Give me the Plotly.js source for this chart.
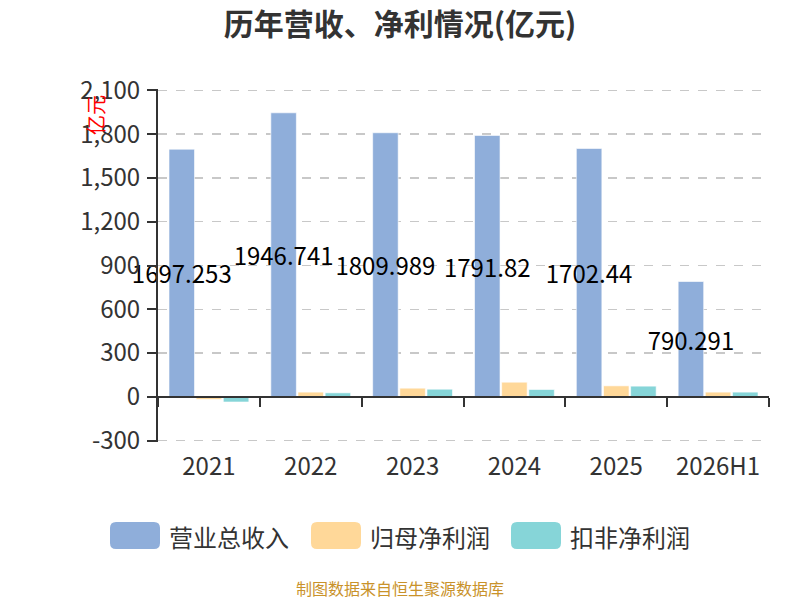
<!DOCTYPE html>
<html lang="zh">

<head>
    <meta charset="utf-8">
    <title>历年营收、净利情况</title>
    <script src="https://cdn.plot.ly/plotly-3.0.1.min.js"></script>
    <style>
        body,
        html {
            margin: 0;
            padding: 0;
            background: #fff;
        }

        #plot {
            width: 800px;
            height: 600px;
        }
    </style>
</head>

<body>
    <div id="plot"></div>

    <script>
        // values in 亿元
        const years = ['2021', '2022', '2023', '2024', '2025', '2026H1'];
        const revenue = [1697.253, 1946.741, 1809.989, 1791.82, 1702.44, 790.291];
        const netProfit = [-18, 32, 59, 100, 75, 32];
        const deductedProfit = [-36, 27, 52, 50, 73, 32];
        const seriesNames = ['营业总收入', '归母净利润', '扣非净利润'];
        const seriesColors = ['#8FAEDA', '#FFD899', '#86D5D8'];
        const yTicks = [-300, 0, 300, 600, 900, 1200, 1500, 1800, 2100];

        const font = '"Noto Sans CJK SC", "Noto Sans", sans-serif';
        // a little padding so plotly keeps the end gridlines
        const yMin = -310, yMax = 2110;

        // plot area in pixels, used to place the hand drawn legend and notes
        const M = { l: 158, r: 31, t: 89, b: 158 };
        const plotW = 800 - M.l - M.r, plotH = 600 - M.t - M.b;
        function px(x) { return (x - M.l) / plotW; }
        function py(y) { return (600 - M.b - y) / plotH; }

        function bars(values, i, withText) {
            const t = {
                type: 'bar',
                name: seriesNames[i],
                x: years,
                y: values,
                marker: { color: seriesColors[i], line: { color: 'rgba(255,255,255,0.6)', width: 1 } },
                showlegend: false,
                hoverinfo: 'x+y'
            };
            if (withText) {
                t.text = values.map(String);
                t.textposition = 'inside';
                t.insidetextanchor = 'middle';
                t.textangle = 0;
                t.constraintext = 'none';
                t.insidetextfont = { family: font, size: 24, color: '#000' };
                t.cliponaxis = false;
            }
            return t;
        }

        const data = [
            bars(revenue, 0, true),
            bars(netProfit, 1, false),
            bars(deductedProfit, 2, false)
        ];

        // legend drawn by hand to get the wide rounded swatches
        const shapes = [];
        const annotations = [];
        const legendX = [110, 311, 511];
        seriesNames.forEach(function (name, i) {
            const x0 = px(legendX[i]), x1 = px(legendX[i] + 50);
            const y0 = py(549), y1 = py(522);
            const r = 6 / plotW, ry = 6 / plotH;
            shapes.push({
                type: 'path', xref: 'paper', yref: 'paper',
                path: `M${x0 + r},${y0} L${x1 - r},${y0} Q${x1},${y0} ${x1},${y0 + ry} L${x1},${y1 - ry} Q${x1},${y1} ${x1 - r},${y1} L${x0 + r},${y1} Q${x0},${y1} ${x0},${y1 - ry} L${x0},${y0 + ry} Q${x0},${y0} ${x0 + r},${y0} Z`,
                fillcolor: seriesColors[i], line: { width: 0 }, layer: 'above'
            });
            annotations.push({
                xref: 'paper', yref: 'paper', x: px(legendX[i] + 57), y: py(536),
                xanchor: 'left', yanchor: 'middle', showarrow: false, text: name,
                font: { family: font, size: 24, color: '#333' }
            });
        });

        // 亿元 unit label
        annotations.push({
            xref: 'paper', yref: 'paper', x: px(96), y: py(115),
            xanchor: 'center', yanchor: 'middle', showarrow: false, text: '亿元', textangle: -90,
            font: { family: font, size: 20, color: '#ff0000' }
        });

        // source note
        annotations.push({
            xref: 'paper', yref: 'paper', x: px(400), y: py(588),
            xanchor: 'center', yanchor: 'middle', showarrow: false, text: '制图数据来自恒生聚源数据库',
            font: { family: font, size: 16, color: '#C9922A' }
        });

        const nCat = years.length;
        const boundaries = [];
        for (let i = 0; i <= nCat; i++) boundaries.push(i - 0.5);

        const layout = {
            width: 800,
            height: 600,
            margin: M,
            paper_bgcolor: '#fff',
            plot_bgcolor: '#fff',
            font: { family: font, color: '#333' },
            title: {
                text: '<b>历年营收、净利情况(亿元)</b>',
                x: 0.5, xanchor: 'center', y: 1 - 24 / 600, yanchor: 'middle',
                font: { family: font, size: 30, color: '#333' }
            },
            barmode: 'group',
            bargap: 0.2,
            bargroupgap: 0.06,
            xaxis: {
                type: 'category',
                range: [-0.5, nCat - 0.5],
                showline: false,
                ticks: '',
                showgrid: false,
                zeroline: false,
                ticklabelstandoff: 8,
                tickfont: { family: font, size: 24, color: '#333' }
            },
            // axis line and ticks drawn at y = 0
            xaxis2: {
                overlaying: 'x',
                anchor: 'free',
                position: (0 - yMin) / (yMax - yMin),
                range: [-0.5, nCat - 0.5],
                tickvals: boundaries,
                showticklabels: false,
                ticks: 'outside',
                ticklen: 9,
                tickwidth: 2,
                tickcolor: '#333',
                showline: true,
                linecolor: '#333',
                linewidth: 2,
                showgrid: false,
                zeroline: false
            },
            yaxis: {
                range: [yMin, yMax],
                tickvals: yTicks,
                ticktext: yTicks.map(function (v) { return v.toLocaleString('en-US'); }),
                showline: true,
                linecolor: '#333',
                linewidth: 2,
                ticks: 'outside',
                ticklen: 9,
                tickwidth: 2,
                tickcolor: '#333',
                showgrid: true,
                gridcolor: '#c8c8c8',
                gridwidth: 1.5,
                griddash: 'dash',
                zeroline: false,
                ticklabelstandoff: 2,
                tickfont: { family: font, size: 24, color: '#333' }
            },
            shapes: shapes,
            annotations: annotations
        };

        // invisible trace so xaxis2 is drawn
        data.push({
            type: 'scatter', x: [0], y: [0], xaxis: 'x2', mode: 'markers',
            marker: { opacity: 0 }, showlegend: false, hoverinfo: 'skip'
        });

        Plotly.newPlot('plot', data, layout, { displayModeBar: false, staticPlot: true });
    </script>
</body>

</html>
